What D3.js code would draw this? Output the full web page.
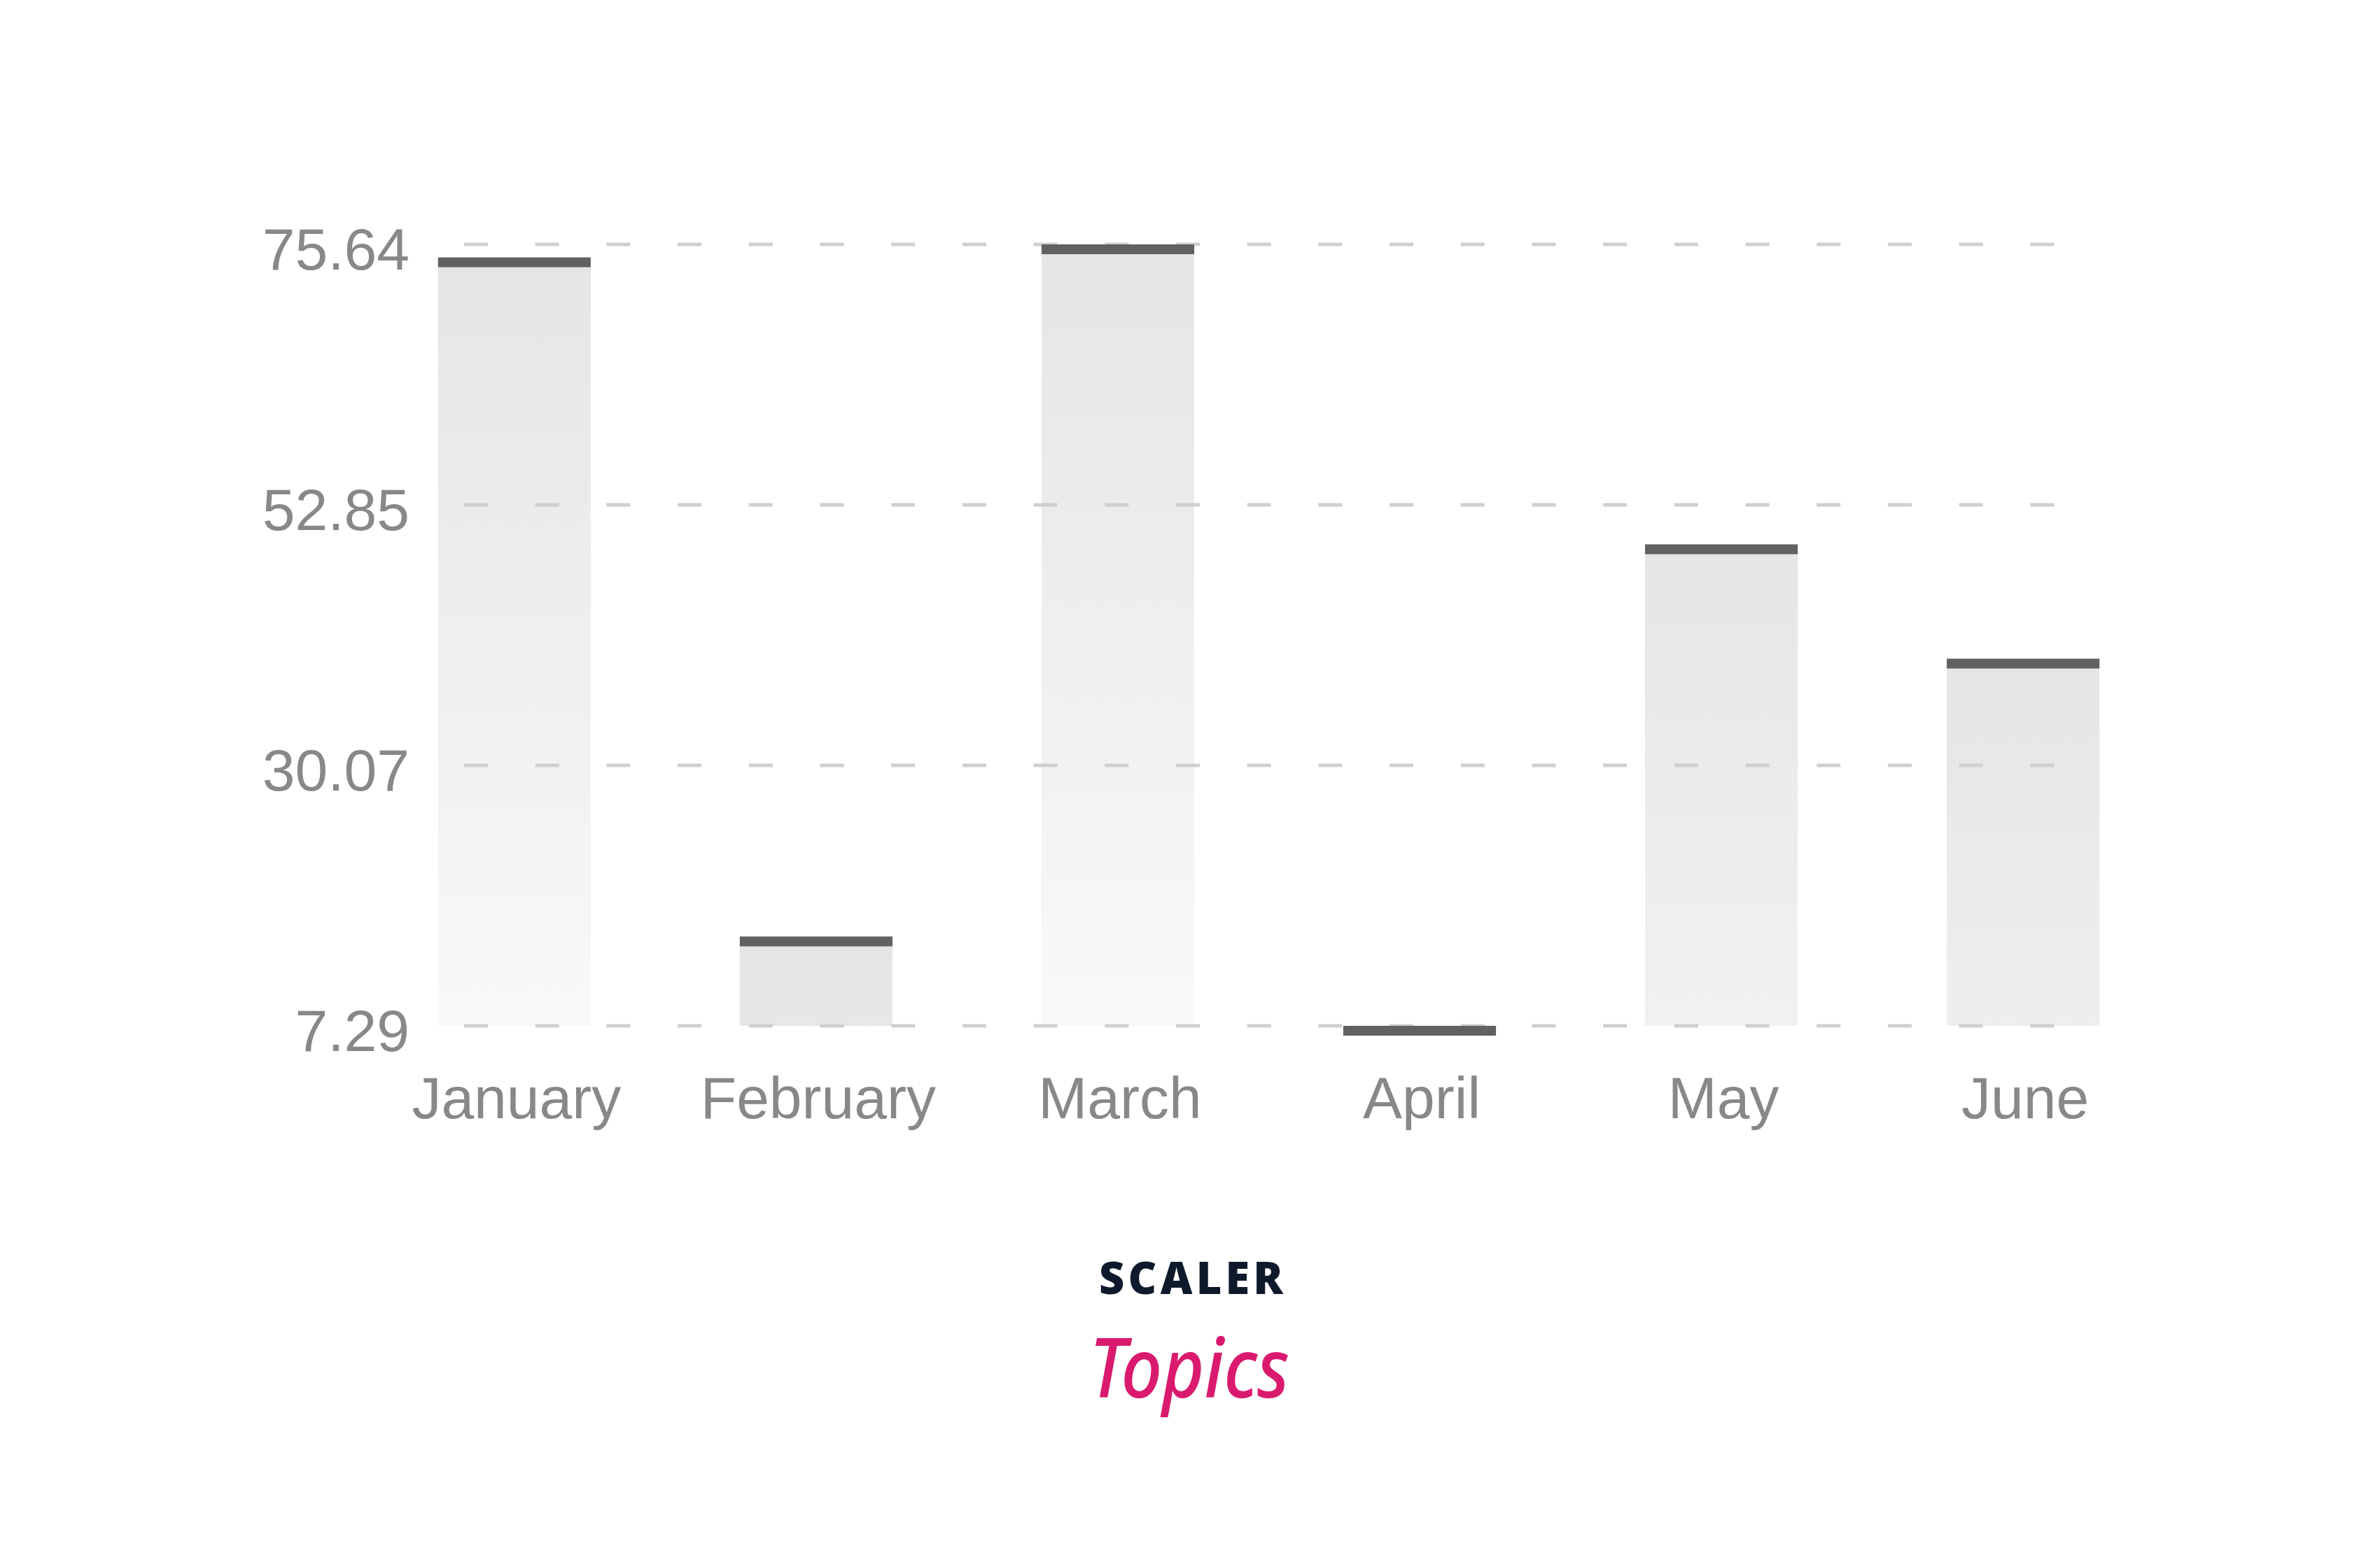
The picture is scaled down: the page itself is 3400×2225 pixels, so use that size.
<!DOCTYPE html>
<html>
<head>
<meta charset="utf-8">
<script src="https://cdn.jsdelivr.net/npm/d3@7"></script>
<style>
  html, body { margin: 0; padding: 0; background: #ffffff; }
  svg { display: block; }
</style>
</head>
<body>
<svg id="chart"></svg>
<script>
// data
var months = ["January", "February", "March", "April", "May", "June"];
var values = [74.5, 15.1, 75.64, 7.29, 49.4, 39.4];
var yTicks = [7.29, 30.07, 52.85, 75.64];

var width = 3400;
var height = 2225;

var svg = d3.select("#chart")
    .attr("width", width)
    .attr("height", height);

svg.append("rect")
    .attr("width", width)
    .attr("height", height)
    .attr("fill", "#ffffff");

var y = d3.scaleLinear()
    .domain([d3.min(yTicks), d3.max(yTicks)])
    .range([1465, 349]);

var x = d3.scaleBand()
    .domain(months)
    .range([518, 3107])
    .paddingInner(0.494)
    .paddingOuter(0.25);

// gradient per bar, fixed length so short bars stay grey
var defs = svg.append("defs");
months.forEach(function (m, i) {
    var g = defs.append("linearGradient")
        .attr("id", "grad" + i)
        .attr("gradientUnits", "userSpaceOnUse")
        .attr("x1", 0).attr("x2", 0)
        .attr("y1", y(values[i]))
        .attr("y2", y(values[i]) + 1120);
    g.append("stop").attr("offset", "0%").attr("stop-color", "#e5e5e5");
    g.append("stop").attr("offset", "100%").attr("stop-color", "#f9f9f9");
});

var data = months.map(function (m, i) {
    return {month: m, value: values[i], idx: i};
});

// bars
svg.append("g")
    .selectAll("rect")
    .data(data)
    .enter()
    .append("rect")
    .attr("x", function (d) { return x(d.month); })
    .attr("y", function (d) { return y(d.value); })
    .attr("width", x.bandwidth())
    .attr("height", function (d) { return y.range()[0] - y(d.value); })
    .attr("fill", function (d) { return "url(#grad" + d.idx + ")"; });

// dashed grid lines
svg.append("g")
    .selectAll("line")
    .data(yTicks)
    .enter()
    .append("line")
    .attr("x1", 663)
    .attr("x2", 2936)
    .attr("y1", function (d) { return y(d); })
    .attr("y2", function (d) { return y(d); })
    .attr("stroke", "#cfcfcf")
    .attr("stroke-width", 5)
    .attr("stroke-dasharray", "34 67.7");

// dark top edge of each bar
svg.append("g")
    .selectAll("rect")
    .data(data)
    .enter()
    .append("rect")
    .attr("x", function (d) { return x(d.month); })
    .attr("y", function (d) { return y(d.value); })
    .attr("width", x.bandwidth())
    .attr("height", 14)
    .attr("fill", "#616161");

// y labels
svg.append("g")
    .selectAll("text")
    .data(yTicks)
    .enter()
    .append("text")
    .attr("x", 585)
    .attr("y", function (d) { return y(d) + 36; })
    .attr("text-anchor", "end")
    .style("font-family", "'Liberation Sans', Arial, sans-serif")
    .style("font-size", "84px")
    .attr("fill", "#888888")
    .text(function (d) { return d3.format(".2f")(d); });

// x labels
svg.append("g")
    .selectAll("text")
    .data(months)
    .enter()
    .append("text")
    .attr("x", function (d) { return x(d) + x.bandwidth() / 2 + 3; })
    .attr("y", 1597)
    .attr("text-anchor", "middle")
    .style("font-family", "'Liberation Sans', Arial, sans-serif")
    .style("font-size", "84px")
    .attr("fill", "#888888")
    .text(function (d) { return d; });

// logo
svg.append("text")
    .attr("x", 1570)
    .attr("y", 1848)
    .attr("textLength", 263)
    .attr("lengthAdjust", "spacing")
    .style("font-family", "'Open Sans', sans-serif")
    .style("font-weight", 800)
    .style("font-size", "63px")
    .attr("fill", "#0e1a2b")
    .text("SCALER");

svg.append("text")
    .attr("x", 1556)
    .attr("y", 1996)
    .attr("textLength", 286)
    .attr("lengthAdjust", "spacingAndGlyphs")
    .style("font-family", "'Noto Sans', sans-serif")
    .style("font-style", "italic")
    .style("font-weight", 500)
    .style("font-size", "118px")
    .attr("fill", "#d91a6e")
    .text("Topics");
</script>
</body>
</html>
